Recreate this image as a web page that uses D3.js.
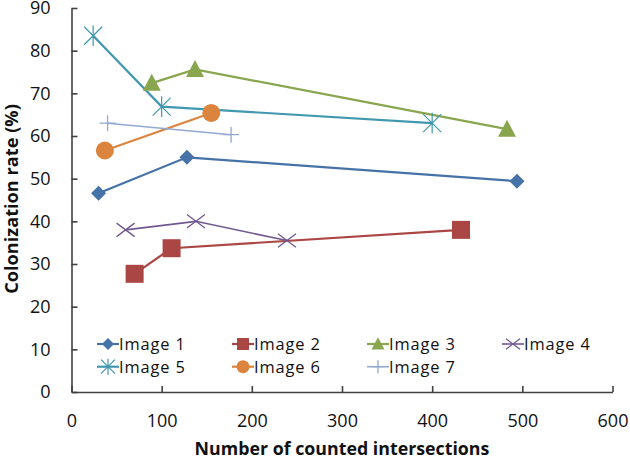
<!DOCTYPE html>
<html><head><meta charset="utf-8">
<script src="https://cdn.jsdelivr.net/npm/d3@7"></script>
<style>body{margin:0;background:#fff}svg{display:block}text{font-family:"Open Sans",sans-serif}</style>
</head><body><svg id="c" width="630" height="458"></svg>
<script>
const seriesNames = ["Image 1","Image 2","Image 3","Image 4","Image 5","Image 6","Image 7"];
const seriesColors = ["#4572A7","#AA4643","#89A54E","#71588F","#4198AF","#DB843D","#93A9CF"];
const seriesSymbols = ["diamond","square","triangle","x","asterisk","circle","plus"];
const image1 = [[30,46.6],[128,55.0],[494,49.4]];
const image2 = [[70,27.7],[111,33.7],[432,38.0]];
const image3 = [[89,72.4],[137,75.6],[483,61.6]];
const image4 = [[60,38.0],[138,40.0],[239,35.5]];
const image5 = [[24,83.5],[100,66.9],[400,63.0]];
const image6 = [[37,56.6],[155,65.4]];
const image7 = [[40,63.0],[177,60.3]];
const seriesData = [image1,image2,image3,image4,image5,image6,image7];
const xTicks = [0,100,200,300,400,500,600];
const yTicks = [0,10,20,30,40,50,60,70,80,90];

const svg = d3.select("#c");
const x = d3.scaleLinear().domain([0,600]).range([71.5,612.5]);
const y = d3.scaleLinear().domain([0,90]).range([392,8]);
const axisColor = "#404040";

function fit(sel, target){
  const n = sel.node(); const fs = parseFloat(sel.style("font-size"));
  const w = n.getComputedTextLength();
  if(w>0) sel.style("font-size",(fs*target/w).toFixed(2)+"px");
}

const gx = svg.append("g").attr("transform","translate(0,392)")
  .call(d3.axisBottom(x).tickValues(xTicks).tickSizeInner(-6).tickSizeOuter(0).tickPadding(22));
const gy = svg.append("g").attr("transform","translate(71.5,0)")
  .call(d3.axisLeft(y).tickValues(yTicks).tickSizeInner(-6).tickSizeOuter(0).tickPadding(21));
[gx,gy].forEach(g=>{
  g.select(".domain").attr("stroke",axisColor).attr("stroke-width",1.6);
  g.selectAll(".tick line").attr("stroke",axisColor).attr("stroke-width",1.6);
  g.selectAll(".tick text").attr("fill","#111").style("font-size","18px").style("font-family","'Open Sans',sans-serif");
});

const xt = svg.append("text").attr("x",342).attr("y",454.5).attr("text-anchor","middle")
  .style("font-size","17px").style("font-weight","bold").attr("fill","#111")
  .text("Number of counted intersections");
fit(xt,295);
const yt = svg.append("text").attr("transform","translate(18,199) rotate(-90)").attr("text-anchor","middle")
  .style("font-size","17px").style("font-weight","bold").attr("fill","#111")
  .text("Colonization rate (%)");
fit(yt,190);

function drawMarker(g, sym, color, cx, cy, s){
  const gg = g.append("g").attr("transform",`translate(${cx},${cy})`);
  if(sym==="diamond") gg.append("path").attr("d",`M0,${-s}L${s},0L0,${s}L${-s},0Z`).attr("fill",color);
  else if(sym==="square") gg.append("rect").attr("x",-s).attr("y",-s).attr("width",s*2).attr("height",s*2).attr("fill",color);
  else if(sym==="triangle") gg.append("path").attr("d",`M0,${-s*1.05}L${s},${s*0.85}L${-s},${s*0.85}Z`).attr("fill",color);
  else if(sym==="circle") gg.append("circle").attr("r",s).attr("fill",color);
  else if(sym==="x") gg.append("path").attr("d",`M${-s},${-s*0.75}L${s},${s*0.75}M${-s},${s*0.75}L${s},${-s*0.75}`).attr("stroke",color).attr("stroke-width",1.3);
  else if(sym==="asterisk") gg.append("path").attr("d",`M${-s},${-s}L${s},${s}M${-s},${s}L${s},${-s}M0,${-s*1.15}L0,${s*1.15}`).attr("stroke",color).attr("stroke-width",1.2);
  else if(sym==="plus") gg.append("path").attr("d",`M${-s},0L${s},0M0,${-s}L0,${s}`).attr("stroke",color).attr("stroke-width",1.3);
}

const line = d3.line().x(d=>x(d[0])).y(d=>y(d[1]));
const lineWidths = [2.2,2.2,2.2,1.6,2.2,2.2,1.6];
const markerSizes = [7.5,9,9,9,9,9,8];
const plot = svg.append("g");
seriesData.forEach((data,i)=>{
  plot.append("path").datum(data).attr("d",line).attr("fill","none")
    .attr("stroke",seriesColors[i]).attr("stroke-width",lineWidths[i]);
});
seriesData.forEach((data,i)=>{
  data.forEach(d=>drawMarker(plot,seriesSymbols[i],seriesColors[i],x(d[0]),y(d[1]),markerSizes[i]));
});

// legend
const legend = svg.append("g");
seriesNames.forEach((name,i)=>{
  const col = i%4, row = Math.floor(i/4);
  const lx = 108 + col*135, ly = 344 + row*22.7;
  legend.append("line").attr("x1",lx-11).attr("x2",lx+11).attr("y1",ly).attr("y2",ly)
    .attr("stroke",seriesColors[i]).attr("stroke-width",lineWidths[i]);
  drawMarker(legend,seriesSymbols[i],seriesColors[i],lx,ly,[6,6,6.5,7,7,6.5,6.5][i]);
  legend.append("text").attr("x",lx+11).attr("y",ly+6).style("font-size","16.4px")
    .style("letter-spacing","0.9px").attr("fill","#111").text(name);
});
</script></body></html>
